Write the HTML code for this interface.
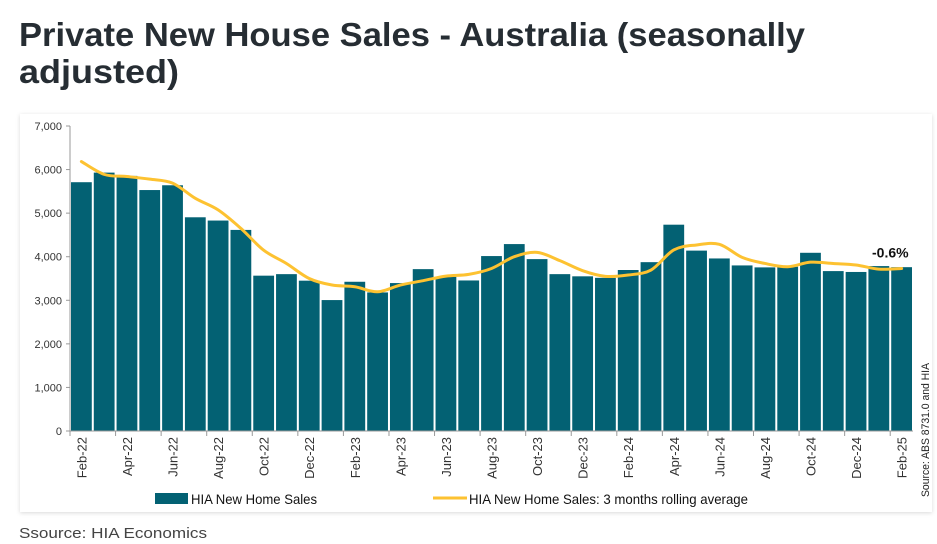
<!DOCTYPE html>
<html><head><meta charset="utf-8"><style>
body{margin:0;background:#fff;width:937px;height:544px;overflow:hidden;font-family:"Liberation Sans",sans-serif}
svg{display:block}
</style></head><body>
<svg width="937" height="544" viewBox="0 0 937 544">
<defs><filter id="sh" x="-5%" y="-5%" width="110%" height="110%"><feDropShadow dx="0" dy="1" stdDeviation="2" flood-color="#000" flood-opacity="0.15"/></filter></defs>
<g font-family="Liberation Sans, sans-serif" font-weight="bold" fill="#262d33" font-size="33">
<text x="19" y="46" textLength="786" lengthAdjust="spacingAndGlyphs">Private New House Sales - Australia (seasonally</text>
<text x="19" y="83" textLength="160" lengthAdjust="spacingAndGlyphs">adjusted)</text>
</g>
<rect x="20" y="114" width="912" height="398" fill="#fff" filter="url(#sh)"/>
<g id="plot"></g>
<text x="19" y="538" font-size="15" fill="#444" textLength="188" lengthAdjust="spacingAndGlyphs">Ssource: HIA Economics</text>
</svg>
<script>
const months=["Feb-22","Mar-22","Apr-22","May-22","Jun-22","Jul-22","Aug-22","Sep-22","Oct-22","Nov-22","Dec-22","Jan-23","Feb-23","Mar-23","Apr-23","May-23","Jun-23","Jul-23","Aug-23","Sep-23","Oct-23","Nov-23","Dec-23","Jan-24","Feb-24","Mar-24","Apr-24","May-24","Jun-24","Jul-24","Aug-24","Sep-24","Oct-24","Nov-24","Dec-24","Jan-25","Feb-25"];
const sales=[5710,5930,5855,5530,5640,4905,4830,4615,3565,3600,3450,3005,3425,3180,3395,3715,3540,3455,4015,4290,3945,3600,3550,3515,3695,3875,4735,4140,3960,3800,3755,3770,4090,3670,3650,3785,3760];
const rolling=[6185,5890,5840,5780,5690,5340,5075,4650,4150,3845,3500,3350,3310,3195,3350,3450,3555,3595,3730,4000,4100,3910,3680,3550,3580,3695,4155,4270,4285,3985,3845,3770,3875,3845,3810,3715,3730];
const yTicks=[0,1000,2000,3000,4000,5000,6000,7000];
const yTickLabels=["0","1,000","2,000","3,000","4,000","5,000","6,000","7,000"];
const NS="http://www.w3.org/2000/svg";
const g=document.getElementById('plot');
const X0=70,X1=913,Y0=431,Y1=126,YMAX=7000;
const slot=(X1-X0)/months.length;
const y=v=>Y0-(v/YMAX)*(Y0-Y1);
const xc=i=>X0+slot*(i+0.5);
function mk(t,a){const e=document.createElementNS(NS,t);for(const k in a)e.setAttribute(k,a[k]);g.appendChild(e);return e;}
let ax=mk('line',{x1:X0,y1:Y1,x2:X0,y2:Y0,stroke:'#999','stroke-width':1});


yTicks.forEach((v,i)=>{
 const t=mk('line',{x1:X0-4,x2:X0,y1:y(v),y2:y(v),stroke:'#999'});
 
 
 const l=mk('text',{x:X0-8,y:y(v)+4,'text-anchor':'end','font-size':11,fill:'#333'});
 l.textContent=yTickLabels[i];
 
 
});
sales.forEach((v,i)=>{
 const b=mk('rect',{x:X0+slot*i+1,y:y(v),width:slot-2,height:Y0-y(v),fill:'#036173'});
 
 
});
let xa=mk('line',{x1:X0,y1:Y0,x2:X1,y2:Y0,stroke:'#999'});


for(let i=0;i<=months.length;i+=2){
 const t=mk('line',{x1:X0+slot*i,x2:X0+slot*i,y1:Y0,y2:Y0+5,stroke:'#999'});
 
 
}
months.forEach((m,i)=>{
 if(i%2)return;
 const l=mk('text',{x:0,y:0,'text-anchor':'end','font-size':13,fill:'#333',transform:`translate(${xc(i)+5},${Y0+6}) rotate(-90)`});
 l.textContent=m;
 
 
});
const pts=rolling.map((v,i)=>[xc(i),y(v)]);
let d=`M${pts[0][0]},${pts[0][1]}`;
for(let i=0;i<pts.length-1;i++){
 const p0=pts[Math.max(0,i-1)],p1=pts[i],p2=pts[i+1],p3=pts[Math.min(pts.length-1,i+2)];
 d+=` C${p1[0]+(p2[0]-p0[0])/6},${p1[1]+(p2[1]-p0[1])/6} ${p2[0]-(p3[0]-p1[0])/6},${p2[1]-(p3[1]-p1[1])/6} ${p2[0]},${p2[1]}`;
}
const ln=mk('path',{d:d,fill:'none',stroke:'#fdc231','stroke-width':3,'stroke-linecap':'round'});


const ann=mk('text',{x:xc(36)+7,y:y(rolling[36])-11,'text-anchor':'end','font-size':14,'font-weight':'bold',fill:'#111'});
ann.textContent='-0.6%';


const s1=mk('rect',{x:155,y:493,width:33,height:11,fill:'#036173'});


const t1=mk('text',{x:191,y:504,'font-size':14,fill:'#111',textLength:126,lengthAdjust:'spacingAndGlyphs'});
t1.textContent='HIA New Home Sales';


const s2=mk('line',{x1:433,x2:467,y1:498,y2:498,stroke:'#fdc231','stroke-width':3});


const t2=mk('text',{x:469,y:504,'font-size':14,fill:'#111',textLength:279,lengthAdjust:'spacingAndGlyphs'});
t2.textContent='HIA New Home Sales: 3 months rolling average';


const src=mk('text',{x:0,y:0,'font-size':11,fill:'#222',transform:'translate(929,497) rotate(-90)',textLength:134,lengthAdjust:'spacingAndGlyphs'});
src.textContent='Source: ABS 8731.0 and HIA';


</script>
</body></html>
